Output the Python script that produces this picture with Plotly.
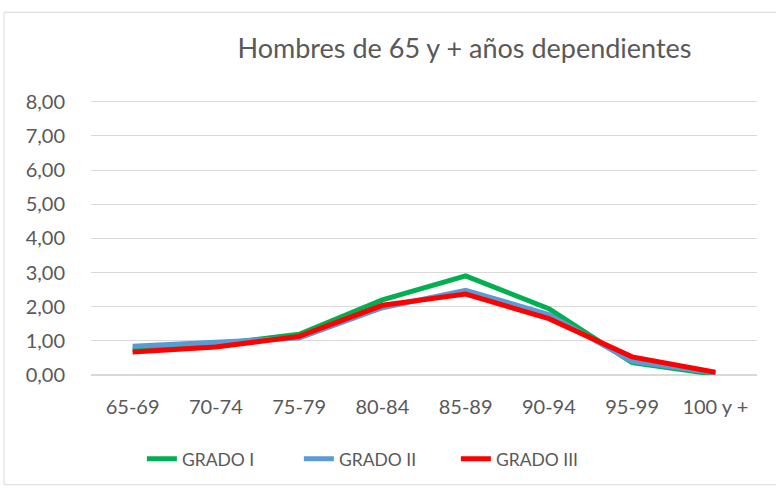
import plotly.graph_objects as go

# grupos de edad
edades = ['65-69', '70-74', '75-79', '80-84', '85-89', '90-94', '95-99', '100 y +']

# porcentaje por grado de dependencia
grado_1 = [0.75, 0.90, 1.19, 2.20, 2.90, 1.94, 0.36, 0.02]
grado_2 = [0.84, 0.95, 1.08, 1.97, 2.48, 1.77, 0.40, 0.06]
grado_3 = [0.67, 0.82, 1.13, 2.04, 2.37, 1.65, 0.53, 0.08]

series = [
    ('GRADO I', grado_1, '#00B050'),
    ('GRADO II', grado_2, '#5B9BD5'),
    ('GRADO III', grado_3, '#FF0000'),
]

fig = go.Figure()
for nombre, valores, color in series:
    fig.add_trace(go.Scatter(x=edades, y=valores, name=nombre, mode='lines',
                             line=dict(color=color, width=5)))

fig.update_layout(
    width=776, height=488,
    margin=dict(l=91, r=19, t=100, b=112),
    paper_bgcolor='white', plot_bgcolor='white',
    separators=',.',
    font=dict(family='Lato', size=20, color='#595959'),
    title=dict(text='Hombres de 65 y + años dependientes', x=0.5986, xanchor='center',
               y=0.901, yanchor='middle', font=dict(size=27, color='#595959')),
    showlegend=True,
    legend=dict(orientation='h', x=0.43, xanchor='center', y=-0.30, yanchor='middle',
                font=dict(size=17.5, color='#595959'), entrywidth=112),
    xaxis=dict(range=[-0.5, 7.5], showgrid=False, showline=False, ticks='',
               ticklabelstandoff=18, tickfont=dict(size=20)),
    yaxis=dict(range=[0, 8.05], tickvals=[0, 1, 2, 3, 4, 5, 6, 7, 8], tickformat='.2f',
               gridcolor='#D9D9D9', gridwidth=1, zeroline=True, zerolinecolor='#D9D9D9',
               showline=False, ticks='', ticklabelstandoff=25, tickfont=dict(size=20)),
    shapes=[dict(type='rect', xref='paper', yref='paper',
                 x0=-0.1306, x1=1.03, y0=-0.399, y1=1.319,
                 line=dict(color='#D9D9D9', width=1), fillcolor='rgba(0,0,0,0)')],
)

fig.write_html('out.html', config={'displayModeBar': False},
               post_script="document.body.style.margin='0';")
